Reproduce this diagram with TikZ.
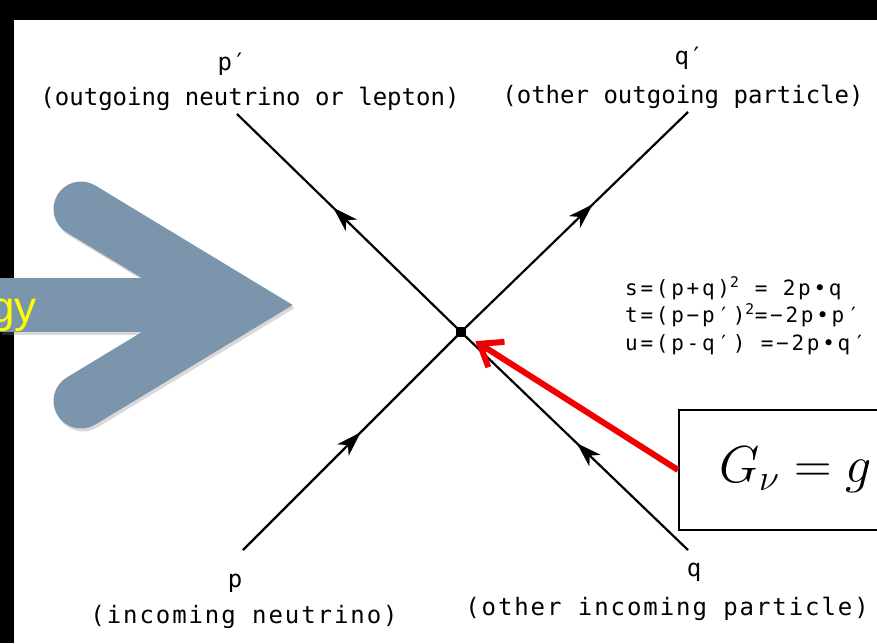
\documentclass[tikz,border=0pt]{standalone}
\usepackage{fix-cm}
\usepackage{fontspec}
\usepackage{tikz}
\usetikzlibrary{arrows.meta,decorations.markings}
\newfontfamily\leroy{DejaVu Sans Mono}
\newfontfamily\leroywide[LetterSpace=8]{DejaVu Sans Mono}
\newfontfamily\leroyeq[LetterSpace=13]{DejaVu Sans Mono}
\newfontfamily\slidefont{Liberation Sans}
\definecolor{chevronfill}{RGB}{123,149,172}
\definecolor{slideyellow}{RGB}{255,255,0}
\definecolor{pointerred}{RGB}{240,0,0}

\begin{document}
\begin{tikzpicture}[
    x=1pt, y=-1pt,
    partname/.style={inner sep=0pt, anchor=base, font={\leroy\fontsize{24}{28}\selectfont}},
    partnote/.style={inner sep=0pt, anchor=base, font={\leroy\fontsize{24}{28}\selectfont}},
    partnotewide/.style={inner sep=0pt, anchor=base, font={\leroywide\fontsize{24}{28}\selectfont}},
    eqline/.style={inner sep=0pt, anchor=base west, font={\leroyeq\fontsize{21}{24}\selectfont}},
    vertexdot/.style={rectangle, fill=black, minimum size=10pt, inner sep=0pt},
    fermion/.style={draw=black, line width=2.2pt, postaction={decorate},
      decoration={markings, mark=at position #1 with {\arrow{Stealth[length=25pt,width=16pt,inset=7pt]}}}},
    chevron/.style={draw=chevronfill, line width=55pt, line cap=round, line join=miter},
    gbox/.style={draw=black, line width=2pt, fill=white, anchor=west, minimum height=120pt,
      text width=200pt, inner xsep=40pt, align=left, font=\fontsize{52}{60}\selectfont},
    pointer/.style={draw=pointerred, line width=6pt, -{Straight Barb[length=20pt,width=30pt]}, shorten >=17pt},
    slidetext/.style={inner sep=0pt, anchor=base east, text=slideyellow, font={\slidefont\fontsize{44}{50}\selectfont}}
  ]
    \useasboundingbox (0,0) rectangle (877,643);
    \clip (0,0) rectangle (877,643);
    \fill[black] (0,0) rectangle (877,20);
    \fill[black] (0,0) rectangle (14,643);

    \begin{scope}[shift={(2,3)}, opacity=0.3]
      \fill[gray] (0,278) rectangle (200,332);
      \draw[chevron, draw=gray] (81,209) -- (239.6,305) -- (81,401);
    \end{scope}
    \fill[chevronfill] (0,278) rectangle (200,332);
    \draw[chevron] (81,209) -- (239.6,305) -- (81,401);
    \node[slidetext] (slidegy) at (37,322) {gy};

    \node[vertexdot] (vtx) at (461,332) {};
    \coordinate (pout) at (237,114);
    \coordinate (qout) at (688,112);
    \coordinate (pin) at (243,550);
    \coordinate (qin) at (688,550);
    \draw[fermion=0.57] (vtx.center) -- (pout);
    \draw[fermion=0.58] (vtx.center) -- (qout);
    \draw[fermion=0.54] (pin) -- (vtx.center);
    \draw[fermion=0.49] (qin) -- (vtx.center);

    \node[partname] (pplbl) at (232,70) {p′};
    \node[partnote] (ppnote) at (250,105) {(outgoing neutrino or lepton)};
    \node[partname] (qplbl) at (689,64) {q′};
    \node[partnote] (qpnote) at (683,103) {(other outgoing particle)};
    \node[partname] (plbl) at (235,587) {p};
    \node[partnotewide] (pnote) at (244,623) {(incoming neutrino)};
    \node[partname] (qlbl) at (694,576) {q};
    \node[partnotewide] (qnote) at (667,615) {(other incoming particle)};

    \node[eqline] (sline) at (625,295) {s=(p+q)\textsuperscript{2} = 2p•q};
    \node[eqline] (tline) at (625,322) {t=(p−p′)\textsuperscript{2}=−2p•p′};
    \node[eqline] (uline) at (625,350) {u=(p-q′) =−2p•q′};

    \node[gbox] (gcoupling) at (678,470) {$G_\nu = g$};
    \draw[pointer] (gcoupling.west) -- (vtx.center);
  \end{tikzpicture}
\end{document}
